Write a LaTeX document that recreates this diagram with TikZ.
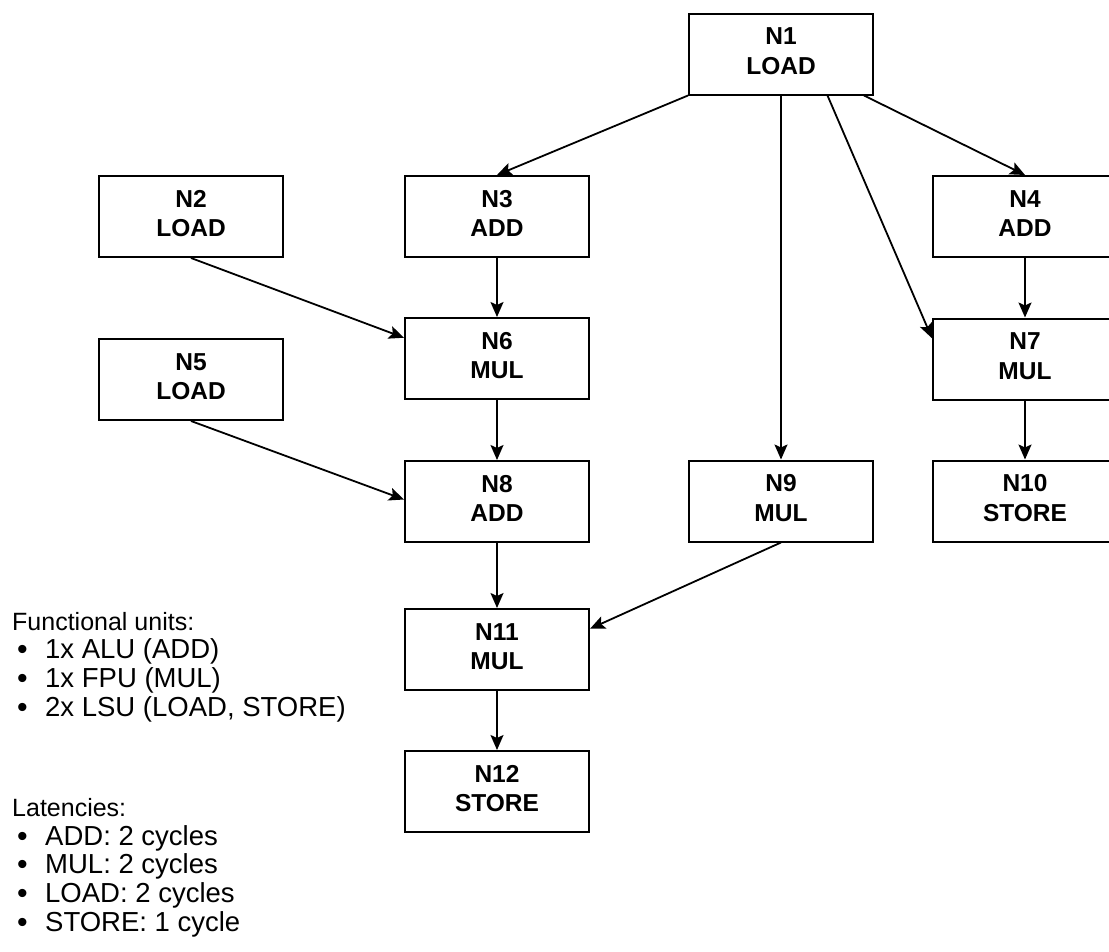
\documentclass[tikz,border=0pt]{standalone}
\usepackage{fontspec}
\setmainfont{Liberation Sans}
\usetikzlibrary{arrows.meta,calc}

\tikzset{
  op/.style={draw, line width=2pt, minimum width=184pt, minimum height=81pt,
    inner sep=0pt, align=center, text depth=6pt,
    font=\fontsize{24.5}{29.5}\selectfont\bfseries},
  dep/.style={line width=1.8pt, -{Stealth[length=15pt,width=13pt,inset=3pt]}},
  head/.style={anchor=base west, inner sep=0pt, font=\fontsize{25}{28}\selectfont},
  item/.style={anchor=base west, inner sep=0pt, font=\fontsize{27.5}{29}\selectfont},
}
\newcommand{\bul}{\makebox[33pt][l]{\hspace{5pt}\raisebox{-1pt}{\scalebox{1.1}{\textbullet}}}}

\begin{document}
\begin{tikzpicture}[x=1pt,y=-1pt]
\useasboundingbox (0,0) rectangle (1109,951);

% operation nodes
\node[op] (N1)  at (781,54)    {N1\\LOAD};
\node[op] (N2)  at (191,216.5) {N2\\LOAD};
\node[op] (N3)  at (497,216.5) {N3\\ADD};
\node[op] (N4)  at (1025,216.5){N4\\ADD};
\node[op] (N5)  at (191,379.5) {N5\\LOAD};
\node[op] (N6)  at (497,358.5) {N6\\MUL};
\node[op] (N7)  at (1025,359)  {N7\\MUL};
\node[op] (N8)  at (497,501.5) {N8\\ADD};
\node[op] (N9)  at (781,501)   {N9\\MUL};
\node[op] (N10) at (1025,501)  {N10\\STORE};
\node[op] (N11) at (497,649.5) {N11\\MUL};
\node[op] (N12) at (497,791.5) {N12\\STORE};

% data dependencies
\draw[dep] (N1.south west) -- (N3.north);
\draw[dep] (N1.south) -- (N9.north);
\draw[dep] ($(N1.south west)!0.75!(N1.south east)$) -- ($(N7.north west)!0.25!(N7.south west)$);
\draw[dep] ($(N1.south east)+(-10,0)$) -- (N4.north);
\draw[dep] (N2.south) -- ($(N6.north west)!0.25!(N6.south west)$);
\draw[dep] (N3.south) -- (N6.north);
\draw[dep] (N4.south) -- (N7.north);
\draw[dep] (N5.south) -- ($(N8.west)+(0,-2)$);
\draw[dep] (N6.south) -- (N8.north);
\draw[dep] (N7.south) -- (N10.north);
\draw[dep] (N8.south) -- (N11.north);
\draw[dep] (N9.south) -- ($(N11.north east)!0.25!(N11.south east)$);
\draw[dep] (N11.south) -- (N12.north);

% resources and latencies
\node[head] (fu)  at (12,630.7) {Functional units:};
\node[item] (fu1) at (12,658)   {\bul 1x ALU (ADD)};
\node[item] (fu2) at (12,687)   {\bul 1x FPU (MUL)};
\node[item] (fu3) at (12,716)   {\bul 2x LSU (LOAD, STORE)};

\node[head] (lt)  at (12,816.7) {Latencies:};
\node[item] (lt1) at (12,845)   {\bul ADD: 2 cycles};
\node[item] (lt2) at (12,873.5) {\bul MUL: 2 cycles};
\node[item] (lt3) at (12,902)   {\bul LOAD: 2 cycles};
\node[item] (lt4) at (12,931)   {\bul STORE: 1 cycle};
\end{tikzpicture}
\end{document}
